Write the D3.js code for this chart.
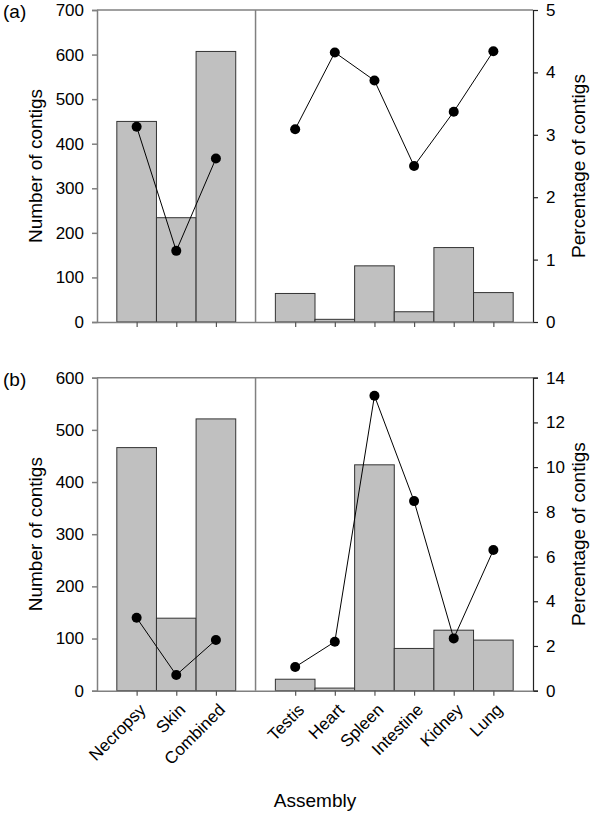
<!DOCTYPE html>
<html>
<head>
<meta charset="utf-8">
<script src="https://cdn.jsdelivr.net/npm/d3@7"></script>
<style>
  html, body { margin: 0; padding: 0; background: #fff; }
  svg { display: block; font-family: "Liberation Sans", Arial, sans-serif; }
</style>
</head>
<body>
<svg id="chart" width="600" height="814"></svg>
<script>
// ---- data ----
const assemblyCats = ["Necropsy", "Skin", "Combined"];
const tissueCats = ["Testis", "Heart", "Spleen", "Intestine", "Kidney", "Lung"];
const categories = assemblyCats.concat(tissueCats);

const countsA = [450, 234, 607, 64, 6, 126, 23, 167, 66];
const pctA    = [3.13, 1.14, 2.62, 3.09, 4.32, 3.87, 2.50, 3.37, 4.34];
const countsB = [466, 139, 521, 22, 5, 433, 81, 116, 97];
const pctB    = [3.26, 0.70, 2.27, 1.06, 2.19, 13.19, 8.48, 2.34, 6.29];

const leftTicksA  = [0, 100, 200, 300, 400, 500, 600, 700];
const rightTicksA = [0, 1, 2, 3, 4, 5];
const leftTicksB  = [0, 100, 200, 300, 400, 500, 600];
const rightTicksB = [0, 2, 4, 6, 8, 10, 12, 14];

const panelLabels = ["(a)", "(b)"];
const yTitleLeft = "Number of contigs";
const yTitleRight = "Percentage of contigs";
const xTitle = "Assembly";

// ---- layout ----
const svg = d3.select("#chart");
const plotL = 97, plotR = 533;
const GAP = "__gap__";
const xDomain = assemblyCats.concat([GAP], tissueCats);
const x = d3.scalePoint().domain(xDomain).range([plotL, plotR]).padding(1);
const step = x.step();

const frameColor = "#808080";
const tickFont = 17;
const titleFont = 19;
const FONT = "Liberation Sans, Arial, sans-serif";

function panel(cfg) {
  const g = svg.append("g");
  const yL = d3.scaleLinear().domain([0, cfg.leftMax]).range([cfg.bottom, cfg.top]);
  const yR = d3.scaleLinear().domain([0, cfg.rightMax]).range([cfg.bottom, cfg.top]);

  const rows = categories.map((c, i) => ({ c, n: cfg.counts[i], p: cfg.pct[i] }));

  // bars
  g.append("g").selectAll("rect").data(rows).join("rect")
    .attr("x", d => x(d.c) - step / 2)
    .attr("y", d => yL(d.n))
    .attr("width", step)
    .attr("height", d => yL(0) - yL(d.n))
    .attr("fill", "#c0c0c0")
    .attr("stroke", "#333")
    .attr("stroke-width", 1);

  // top frame and divider
  g.append("line").attr("x1", plotL).attr("x2", plotR)
    .attr("y1", cfg.top).attr("y2", cfg.top)
    .attr("stroke", frameColor).attr("stroke-width", 1.5);
  g.append("line").attr("x1", x(GAP)).attr("x2", x(GAP))
    .attr("y1", cfg.top).attr("y2", cfg.bottom)
    .attr("stroke", frameColor).attr("stroke-width", 1.5);

  // left axis
  const ax = g.append("g").attr("transform", `translate(${plotL},0)`)
    .call(d3.axisLeft(yL).tickValues(cfg.leftTicks).tickSize(5).tickPadding(8).tickFormat(d3.format("d")));
  ax.select(".domain").attr("stroke", frameColor).attr("stroke-width", 1.5);
  ax.selectAll(".tick line").attr("stroke", frameColor).attr("stroke-width", 1.5);
  ax.selectAll("text").attr("font-size", tickFont).attr("font-family", FONT).attr("fill", "#000");

  // right axis
  const ar = g.append("g").attr("transform", `translate(${plotR},0)`)
    .call(d3.axisRight(yR).tickValues(cfg.rightTicks).tickSize(5).tickPadding(8).tickFormat(d3.format("d")));
  ar.select(".domain").attr("stroke", "#222").attr("stroke-width", 1.2);
  ar.selectAll(".tick line").attr("stroke", "#222").attr("stroke-width", 1.2);
  ar.selectAll("text").attr("font-size", tickFont).attr("font-family", FONT).attr("fill", "#000");

  // bottom axis (ticks only)
  const ab = g.append("g").attr("transform", `translate(0,${cfg.bottom})`)
    .call(d3.axisBottom(x).tickValues(categories).tickSize(5).tickSizeOuter(0).tickFormat(() => ""));
  ab.select(".domain").attr("stroke", frameColor).attr("stroke-width", 1.5);
  ab.selectAll(".tick line").attr("stroke", "#555").attr("stroke-width", 1.2);
  ab.selectAll(".tick text").remove();

  // rotated category labels
  if (cfg.showLabels) {
    svg.append("g").selectAll("text").data(categories).join("text")
      .text(d => d)
      .attr("x", d => x(d) + 6)
      .attr("y", cfg.bottom + 16)
      .attr("dy", "0.35em")
      .attr("text-anchor", "end")
      .attr("font-size", tickFont)
      .attr("font-family", FONT)
      .attr("fill", "#000")
      .attr("transform", d => `rotate(-45 ${x(d) + 6} ${cfg.bottom + 16})`);
  }

  // lines + dots (two separate groups)
  const line = d3.line().x(d => x(d.c)).y(d => yR(d.p));
  [assemblyCats, tissueCats].forEach(grp => {
    const pts = rows.filter(r => grp.includes(r.c));
    g.append("path").datum(pts).attr("d", line)
      .attr("fill", "none").attr("stroke", "#000").attr("stroke-width", 1);
    g.append("g").selectAll("circle").data(pts).join("circle")
      .attr("cx", d => x(d.c)).attr("cy", d => yR(d.p)).attr("r", 5)
      .attr("fill", "#000");
  });

  // titles
  const midY = (cfg.top + cfg.bottom) / 2;
  g.append("text").text(yTitleLeft)
    .attr("transform", `translate(42,${midY}) rotate(-90)`)
    .attr("text-anchor", "middle").attr("font-size", titleFont).attr("fill", "#000");
  g.append("text").text(yTitleRight)
    .attr("transform", `translate(585,${midY}) rotate(-90)`)
    .attr("text-anchor", "middle").attr("font-size", titleFont).attr("fill", "#000");
  g.append("text").text(cfg.label)
    .attr("x", 3).attr("y", cfg.top + 8)
    .attr("font-size", titleFont).attr("fill", "#000");
}

panel({ top: 10, bottom: 322, leftMax: 700, rightMax: 5,
        counts: countsA, pct: pctA, leftTicks: leftTicksA, rightTicks: rightTicksA,
        label: panelLabels[0], showLabels: false });
panel({ top: 377.7, bottom: 690.7, leftMax: 600, rightMax: 14,
        counts: countsB, pct: pctB, leftTicks: leftTicksB, rightTicks: rightTicksB,
        label: panelLabels[1], showLabels: true });

svg.append("text").text(xTitle)
  .attr("x", (plotL + plotR) / 2).attr("y", 807)
  .attr("text-anchor", "middle").attr("font-size", titleFont).attr("fill", "#000");
</script>
</body>
</html>
